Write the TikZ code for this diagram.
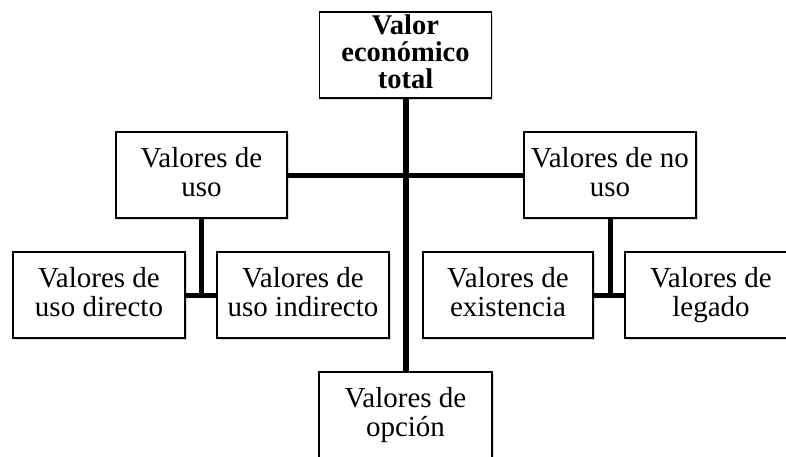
\documentclass[tikz,border=0pt]{standalone}
\usepackage{fontspec}
\setmainfont{Liberation Serif}
\usetikzlibrary{shadows}
\newcommand\fstr{\vphantom{Vlé}}
\newcommand\lstr{\vphantom{gpy}}
\begin{document}
\begin{tikzpicture}[x=1pt,y=-1pt,
  vbox/.style={draw=black, line width=1.3pt, fill=white, minimum width=172pt, minimum height=86pt,
    inner sep=0pt, align=center, font=\fontsize{29}{29}\selectfont,
    drop shadow={opacity=0.3, shadow xshift=1.5pt, shadow yshift=-2pt}},
  topbox/.style={vbox, font=\fontsize{28.5}{27}\selectfont\bfseries},
  link/.style={line width=5pt},
  mainlink/.style={line width=6pt}]
\clip (0,0) rectangle (786,456);
\fill[white] (0,0) rectangle (786,456);
\node[topbox] (top) at (405.5,55) {\fstr Valor\\económico\\total\lstr};
\node[vbox, minimum width=171pt] (uso) at (201.5,175) {\fstr Valores de\\uso\lstr};
\node[vbox] (nouso) at (610,175) {\fstr Valores de no\\uso\lstr};
\node[vbox] (directo) at (99,295) {\fstr Valores de\\uso directo\lstr};
\node[vbox] (indirecto) at (303,295) {\fstr Valores de\\uso indirecto\lstr};
\node[vbox, minimum width=170pt] (existencia) at (508,295) {\fstr Valores de\\existencia\lstr};
\node[vbox] (legado) at (711,295) {\fstr Valores de\\legado\lstr};
\node[vbox, minimum width=173pt] (opcion) at (405.5,415) {\fstr Valores de\\opción\lstr};
\draw[link] (uso.east) -- (nouso.west);
\draw[mainlink] (top.south) -- (opcion.north);
\draw[link] (uso.south) -- (uso.south |- directo.east);
\draw[link] (directo.east) -- (indirecto.west);
\draw[link] (nouso.south) -- (nouso.south |- existencia.east);
\draw[link] (existencia.east) -- (legado.west);
\end{tikzpicture}
\end{document}
